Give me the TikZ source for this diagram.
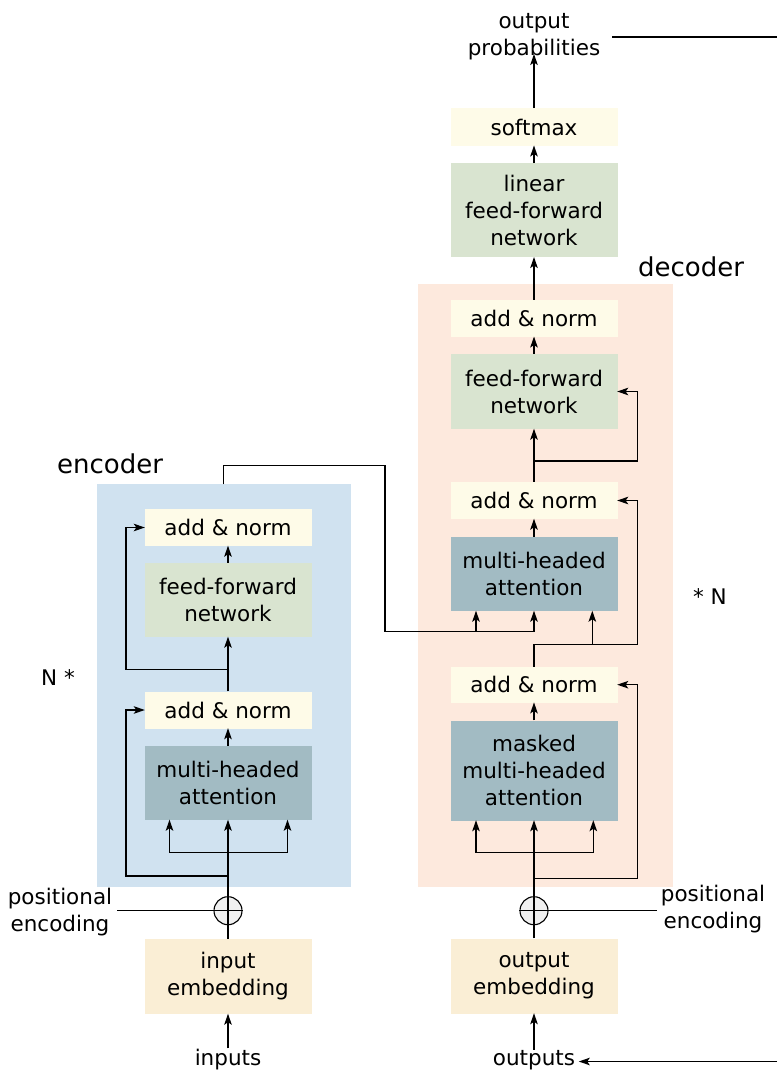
\documentclass[tikz,border=0pt]{standalone}
\usepackage{fontspec}
\setmainfont{DejaVu Sans}
\usetikzlibrary{arrows.meta}

\definecolor{encbg}{RGB}{208,226,240}
\definecolor{decbg}{RGB}{253,233,221}
\definecolor{normfill}{RGB}{254,251,232}
\definecolor{fffill}{RGB}{217,228,208}
\definecolor{attfill}{RGB}{162,187,195}
\definecolor{embfill}{RGB}{250,238,213}
\definecolor{sumfill}{RGB}{240,240,240}

\tikzset{
  box/.style={rectangle, minimum width=167pt, inner sep=0pt, align=center},
  normbox/.style={box, fill=normfill, minimum height=37pt},
  ffbox/.style={box, fill=fffill},
  attbox/.style={box, fill=attfill},
  embbox/.style={box, fill=embfill, minimum height=75pt},
  sumnode/.style={circle, draw, fill=sumfill, minimum size=28pt, inner sep=0pt, line width=1.1pt},
  lbl/.style={align=center, inner sep=0pt},
  big/.style={font=\fontsize{26}{30}\selectfont, inner sep=0pt},
  conn/.style={line width=1.4pt},
  arr/.style={conn, -{Stealth[length=11pt,width=7.5pt,inset=2.5pt]}, shorten >=-0.5pt},
}

\begin{document}
\begin{tikzpicture}[x=1pt, y=-1pt, font=\fontsize{21.5}{27}\selectfont]
\useasboundingbox (0,0) rectangle (777,1070);

% stack backgrounds
\fill[encbg] (96.7,484.3) rectangle (350.7,886.7);
\fill[decbg] (417.7,284) rectangle (672.7,886.7);
\node[big] (enclabel) at (110,464) {encoder};
\node[big] (declabel) at (691,267) {decoder};
\node[lbl] (nenc) at (58,678) {N *};
\node[lbl] (ndec) at (710,597) {* N};

% ---------- encoder ----------
\node[embbox] (emb) at (228,976.5) {input\\embedding};
\node[sumnode] (sumE) at (228,910.7) {};
\draw[line width=1.1pt] (sumE.north) -- (sumE.south) (sumE.west) -- (sumE.east);
\node[attbox, minimum height=74pt] (eatt) at (228,783) {multi-headed\\attention};
\node[normbox] (enorm1) at (228,710) {add \& norm};
\node[ffbox, minimum height=74pt] (eff) at (228,600) {feed-forward\\network};
\node[normbox] (enorm2) at (228,527.5) {add \& norm};

\node[lbl, anchor=base] (inputs) at (228,1065) {inputs};
\node[lbl] (posE) at (60,912) {positional\\encoding};
\coordinate (posEend) at (117,910.7);

\draw[arr] (inputs.north) -- (emb.south);
\draw[conn] (emb.north) -- (sumE.south);
\draw[conn] (posEend) -- (sumE.west);
\draw[arr] (sumE.north) -- (eatt.south);
\coordinate (eres1) at (228,876);
\coordinate (esplit) at (228,852.3);
\draw[arr] (esplit) -| ([xshift=-58.5pt]eatt.south);
\draw[arr] (esplit) -| ([xshift=59.5pt]eatt.south);
\draw[arr] (eres1) -| ([xshift=-18.5pt]enorm1.west) -- (enorm1.west);
\draw[arr] (eatt.north) -- (enorm1.south);
\draw[arr] (enorm1.north) -- (eff.south);
\coordinate (eres2) at (228,669.7);
\draw[arr] (eres2) -| ([xshift=-18.5pt]enorm2.west) -- (enorm2.west);
\draw[arr] (eff.north) -- (enorm2.south);

% ---------- decoder ----------
\node[embbox] (demb) at (534,976) {output\\embedding};
\node[sumnode] (sumD) at (534,910.7) {};
\draw[line width=1.1pt] (sumD.north) -- (sumD.south) (sumD.west) -- (sumD.east);
\node[attbox, minimum height=100pt] (dmatt) at (534,770.5) {masked\\multi-headed\\attention};
\node[normbox, minimum height=36pt] (dnorm1) at (534,684.7) {add \& norm};
\node[attbox, minimum height=74pt] (datt) at (534,574) {multi-headed\\attention};
\node[normbox] (dnorm2) at (534,500.5) {add \& norm};
\node[ffbox, minimum height=75pt] (dff) at (534,391.5) {feed-forward\\network};
\node[normbox] (dnorm3) at (534,318.3) {add \& norm};
\node[ffbox, minimum height=94pt] (lin) at (534,210.3) {linear\\feed-forward\\network};
\node[normbox, minimum height=37.5pt] (soft) at (534,127) {softmax};
\node[lbl] (outprob) at (534,37) {output\\probabilities};

\node[lbl, anchor=base] (outputs) at (534,1065) {outputs};
\node[lbl] (posD) at (713,909) {positional\\encoding};
\coordinate (posDend) at (657,910.7);
\coordinate (feedback) at (777,1061.5);
\coordinate (topA) at (612,37);
\coordinate (topB) at (777,37);

\draw[arr] (outputs.north) -- (demb.south);
\draw[arr] (feedback) -- ([xshift=4pt]outputs.east |- feedback);
\draw[conn] (topA) -- (topB);
\draw[conn] (demb.north) -- (sumD.south);
\draw[conn] (sumD.east) -- (posDend);
\draw[arr] (sumD.north) -- (dmatt.south);
\coordinate (dres1) at (534,878.3);
\coordinate (dsplit) at (534,852.3);
\draw[arr] (dsplit) -| ([xshift=-58pt]dmatt.south);
\draw[arr] (dsplit) -| ([xshift=59.3pt]dmatt.south);
\draw[arr] (dres1) -| ([xshift=19.8pt]dnorm1.east) -- (dnorm1.east);
\draw[arr] (dmatt.north) -- (dnorm1.south);

\coordinate (dmid) at (534,644.3);
\draw[conn] (dnorm1.north) -- (dmid);
\draw[arr] (dmid) -| ([xshift=19.8pt]dnorm2.east) -- (dnorm2.east);
\draw[arr] ([xshift=58.3pt]datt.south |- dmid) -- ([xshift=58.3pt]datt.south);
\draw[arr] (datt.north) -- (dnorm2.south);

% encoder output into the decoder attention
\coordinate (cross0) at (223.3,484.3);
\coordinate (cross1) at (223.3,465.7);
\coordinate (cross2) at (385,465.7);
\coordinate (cross3) at (385,631.7);
\draw[conn] (cross0) -- (cross1) -- (cross2) -- (cross3);
\draw[arr] (cross3) -| (datt.south);
\draw[arr] ([xshift=-58pt]datt.south |- cross3) -- ([xshift=-58pt]datt.south);

\coordinate (dtop) at (534,461);
\draw[arr] (dnorm2.north) -- (dff.south);
\draw[arr] (dtop) -| ([xshift=19.8pt]dff.east) -- (dff.east);
\draw[arr] (dff.north) -- (dnorm3.south);
\draw[arr] (dnorm3.north) -- (lin.south);
\draw[arr] (lin.north) -- (soft.south);
\draw[arr] (soft.north) -- ([yshift=6pt]outprob.south);
\end{tikzpicture}
\end{document}
